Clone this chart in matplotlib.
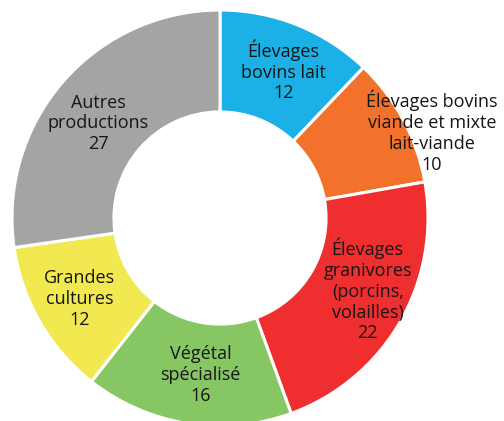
import numpy as np
import matplotlib.pyplot as plt

labels = ["Élevages\nbovins lait", "Élevages bovins\nviande et mixte\nlait-viande",
          "Élevages\ngranivores\n(porcins,\nvolailles)", "Végétal\nspécialisé",
          "Grandes\ncultures", "Autres\nproductions"]
values = [12, 10, 22, 16, 12, 27]
colors = ["#1bb0e6", "#f2722c", "#ee2e2f", "#86c764", "#f1e94f", "#a4a4a4"]

# label radius / angle shift (deg) per slice
lab_r = [0.77, 1.10, 0.79, 0.76, 0.78, 0.74]
lab_shift = [1.5, 6, -4, -2, 0, -3]

fig = plt.figure(figsize=(5.04, 4.21), dpi=100)
ax = fig.add_axes([0, 0, 1, 1])

wedges, _ = ax.pie(values, colors=colors, startangle=90, counterclock=False,
                   radius=1, wedgeprops=dict(width=0.49, edgecolor="white", linewidth=2.2))

tot = sum(values)
cum = np.cumsum([0] + values[:-1])
for i, (lab, v) in enumerate(zip(labels, values)):
    mid = (cum[i] + v / 2) / tot * 360 + lab_shift[i]
    ang = np.deg2rad(90 - mid)
    x = lab_r[i] * np.cos(ang)
    y = lab_r[i] * np.sin(ang)
    ax.text(x, y, f"{lab}\n{v}", ha="center", va="center", fontsize=13,
            family="Open Sans", color="#161616", linespacing=1.2)

ax.set_xlim(-220 / 208, 284 / 208)
ax.set_ylim(-203 / 208, 218 / 208)
ax.set_aspect("auto")
ax.axis("off")

plt.savefig("out.png", dpi=100)
